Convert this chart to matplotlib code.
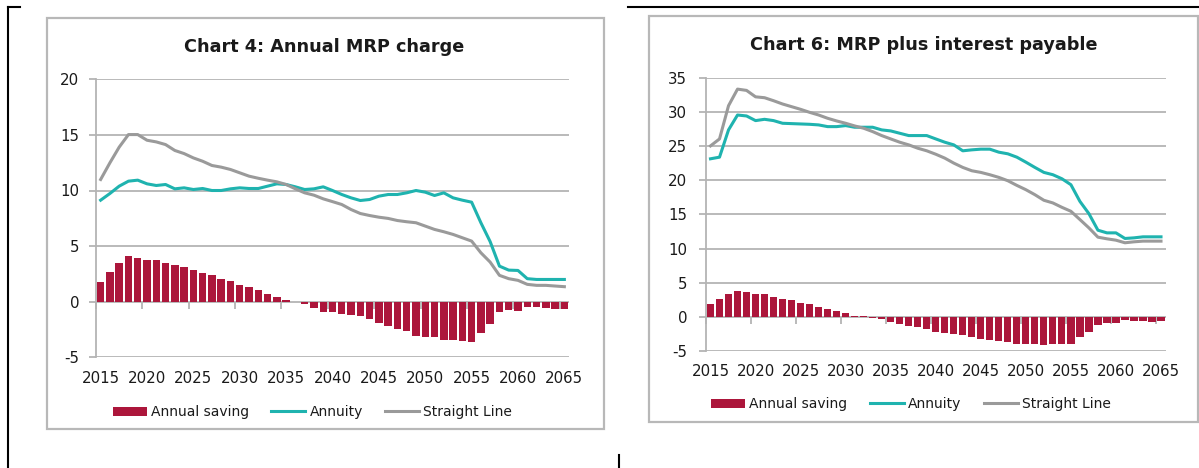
import numpy as np
import matplotlib
matplotlib.use("Agg")
import matplotlib.pyplot as plt
from matplotlib.patches import Rectangle, Patch
from matplotlib.lines import Line2D

# ---------------------------------------------------------------- data
years = list(range(2015, 2066))

chart4_saving = [1.77, 2.69, 3.47, 4.10, 3.95, 3.77, 3.77, 3.44, 3.29, 3.08,
                 2.84, 2.60, 2.37, 2.07, 1.83, 1.53, 1.29, 1.05, 0.69, 0.39,
                 0.12, -0.05, -0.22, -0.55, -0.92,
                 -0.95, -1.08, -1.20, -1.26, -1.56, -1.89, -2.22, -2.43, -2.66, -3.08,
                 -3.14, -3.14, -3.44, -3.44, -3.53, -3.62, -2.78, -2.04, -0.93, -0.75,
                 -0.87, -0.45, -0.48, -0.57, -0.66, -0.66]
chart4_annuity = [9.13, 9.73, 10.39, 10.84, 10.93, 10.60, 10.45, 10.54, 10.15, 10.24,
                  10.09, 10.18, 10.00, 10.00, 10.15, 10.24, 10.18, 10.18, 10.39, 10.60,
                  10.54, 10.33, 10.09, 10.15, 10.33,
                  10.00, 9.64, 9.34, 9.10, 9.19, 9.49, 9.64, 9.64, 9.79, 10.00,
                  9.85, 9.55, 9.79, 9.34, 9.13, 8.95, 7.10, 5.40, 3.20, 2.84,
                  2.81, 2.07, 2.00, 2.00, 2.00, 2.00]
chart4_straight = [10.99, 12.49, 13.90, 15.03, 15.03, 14.52, 14.37, 14.13, 13.60, 13.32,
                   12.93, 12.63, 12.25, 12.10, 11.89, 11.59, 11.29, 11.10, 10.93, 10.78,
                   10.54, 10.15, 9.79, 9.58, 9.25,
                   9.00, 8.74, 8.29, 7.93, 7.75, 7.60, 7.49, 7.30, 7.19, 7.10,
                   6.80, 6.50, 6.29, 6.05, 5.75, 5.45, 4.40, 3.56, 2.37, 2.07,
                   1.92, 1.56, 1.47, 1.47, 1.41, 1.35]

chart6_saving = [1.85, 2.67, 3.40, 3.84, 3.69, 3.30, 3.30, 2.96, 2.67, 2.43,
                 2.09, 1.85, 1.46, 1.17, 0.83, 0.49, 0.19, 0.05, -0.15, -0.34,
                 -0.73, -1.12, -1.36, -1.46, -1.85, -2.26,
                 -2.33, -2.53, -2.67, -2.92, -3.26, -3.40, -3.50, -3.74, -3.98, -3.98,
                 -3.98, -4.13, -3.98, -3.98, -3.98, -3.01, -2.28, -1.17, -0.92, -0.97,
                 -0.49, -0.68, -0.68, -0.73, -0.68]
chart6_annuity = [23.13, 23.37, 27.36, 29.54, 29.40, 28.72, 28.91, 28.72, 28.33, 28.28,
                  28.23, 28.18, 28.09, 27.84, 27.84, 27.99, 27.75, 27.75, 27.75, 27.36,
                  27.21, 26.87, 26.53, 26.53, 26.53, 26.04,
                  25.56, 25.17, 24.30, 24.44, 24.54, 24.54, 24.10, 23.86, 23.37, 22.64,
                  21.87, 21.14, 20.80, 20.21, 19.34, 16.90, 15.10, 12.68, 12.29, 12.29,
                  11.47, 11.56, 11.71, 11.71, 11.71]
chart6_straight = [25.02, 26.04, 30.90, 33.33, 33.14, 32.20, 32.07, 31.63, 31.15, 30.76,
                   30.37, 29.93, 29.54, 29.06, 28.67, 28.33, 27.94, 27.60, 27.11, 26.53,
                   26.04, 25.56, 25.17, 24.68, 24.30, 23.80,
                   23.23, 22.50, 21.87, 21.38, 21.14, 20.80, 20.41, 19.92, 19.24, 18.61,
                   17.88, 17.06, 16.67, 16.03, 15.45, 14.24, 13.02, 11.66, 11.42, 11.22,
                   10.84, 10.98, 11.08, 11.08, 11.08]

titles = ["Chart 4: Annual MRP charge", "Chart 6: MRP plus interest payable"]
series_labels = ["Annual saving", "Annuity", "Straight Line"]

# ---------------------------------------------------------------- style
RED = "#AC163B"
TEAL = "#1FB3AF"
GREY = "#9A9A9A"
GRID = "#B4B4B4"
TEXT = "#1A1A1A"

plt.rcParams["font.family"] = ["DejaVu Sans"]
plt.rcParams["axes.unicode_minus"] = False

W, H = 1199, 468
fig = plt.figure(figsize=(W / 100, H / 100), dpi=100)
fig.patch.set_facecolor("white")


def fx(px):
    return px / W


def fy(py):
    return 1 - py / H


def fline(x0, y0, x1, y1, **kw):
    fig.add_artist(Line2D([fx(x0), fx(x1)], [fy(y0), fy(y1)],
                          transform=fig.transFigure, **kw))


def fbox(x0, y0, x1, y1, **kw):
    fig.add_artist(Rectangle((fx(x0), fy(y1)), fx(x1) - fx(x0), fy(y0) - fy(y1),
                             transform=fig.transFigure, fill=False, **kw))


# page frame and chart boxes
fline(8, 7, 8, 468, color="black", lw=1.5)
fline(8, 7, 20, 7, color="black", lw=1.5)
fline(628, 6.5, 1199, 6.5, color="black", lw=1.5)
fline(619, 455, 619, 468, color="black", lw=1.5)
fbox(47, 18.3, 604, 429, edgecolor="#B8B8B8", lw=1.6)
fbox(649, 15.7, 1197.5, 421.7, edgecolor="#B8B8B8", lw=1.6)


def draw_chart(rect, saving, annuity, straight, ylim, ystep, xpad, ypad):
    ax = fig.add_axes(rect)
    x = np.arange(len(years))
    ax.bar(x, saving, width=0.8, color=RED, zorder=2)
    ax.plot(x, annuity, color=TEAL, lw=2.2, zorder=3, solid_joinstyle="round")
    ax.plot(x, straight, color=GREY, lw=2.2, zorder=4, solid_joinstyle="round")

    ax.set_xlim(-0.5, len(years) - 0.5)
    ax.set_ylim(*ylim)
    ax.set_yticks(np.arange(ylim[0], ylim[1] + 1, ystep))
    ax.set_xticks(x[::5])
    ax.set_xticklabels([str(y) for y in years[::5]])

    ax.set_axisbelow(True)
    ax.yaxis.grid(True, color=GRID, lw=1.3)
    for side in ("top", "right", "bottom"):
        ax.spines[side].set_visible(False)
    ax.spines["left"].set_color(GRID)
    ax.spines["left"].set_linewidth(1.3)

    ax.tick_params(axis="y", direction="out", length=5, width=1.3, color=GRID,
                   labelsize=10.8, labelcolor=TEXT, pad=ypad)
    ax.tick_params(axis="x", length=0, labelsize=10.8, labelcolor=TEXT, pad=xpad)

    # category-boundary tick marks hanging from the zero line
    zero_frac = (0 - ylim[0]) / (ylim[1] - ylim[0])
    sec = ax.secondary_xaxis(zero_frac)
    sec.set_xticks(np.arange(-0.5, len(years), 5))
    sec.tick_params(direction="out", length=5, width=1.3, color=GRID,
                    labelbottom=False, labeltop=False)
    for sp in sec.spines.values():
        sp.set_visible(False)
    return ax


ax1 = draw_chart([fx(96), fy(357.3), (569 - 96) / W, (357.3 - 79.3) / H],
                 chart4_saving, chart4_annuity, chart4_straight,
                 (-5, 20), 5, xpad=10, ypad=7)
ax2 = draw_chart([fx(706), fy(351), (1165.5 - 706) / W, (351 - 77.7) / H],
                 chart6_saving, chart6_annuity, chart6_straight,
                 (-5, 35), 5, xpad=9.5, ypad=8.6)

fig.text(fx(324), fy(51.7), titles[0], ha="center", va="baseline",
         fontsize=12.7, fontweight="bold", color=TEXT)
fig.text(fx(924), fy(50), titles[1], ha="center", va="baseline",
         fontsize=12.7, fontweight="bold", color=TEXT)

handles = [Patch(facecolor=RED, edgecolor="none"),
           Line2D([], [], color=TEAL, lw=2.2),
           Line2D([], [], color=GREY, lw=2.2)]
for cx, cy in ((312.5, 412), (911, 404)):
    fig.legend(handles, series_labels, loc="center",
               bbox_to_anchor=(fx(cx), fy(cy)), ncol=3, frameon=False,
               fontsize=10, handlelength=2.45, handleheight=0.6,
               handletextpad=0.3, columnspacing=1.6, labelcolor=TEXT,
               borderpad=0, borderaxespad=0)

fig.savefig("out.png", dpi=100)
